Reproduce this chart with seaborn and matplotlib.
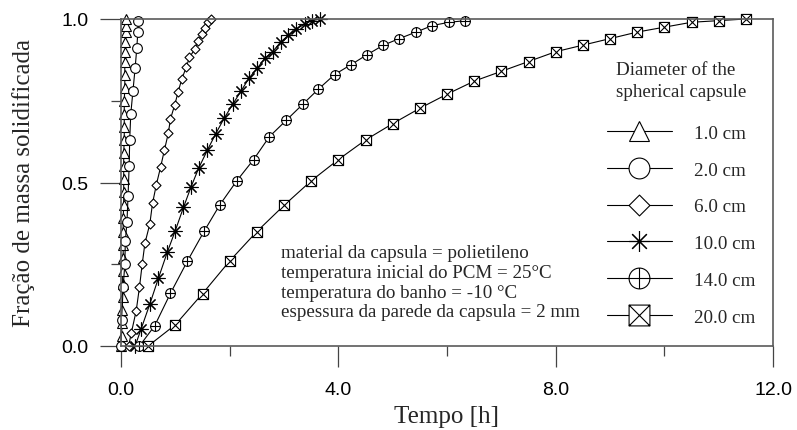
import numpy as np
import pandas as pd
import matplotlib
matplotlib.use("Agg")
import matplotlib.pyplot as plt
from matplotlib.path import Path
from matplotlib.ticker import FixedLocator
import seaborn as sns

# ---------------- data ----------------
series_labels = ["1.0 cm", "2.0 cm", "6.0 cm", "10.0 cm", "14.0 cm", "20.0 cm"]

t_1cm = [0.00, 0.01, 0.02, 0.02, 0.03, 0.03, 0.03, 0.04, 0.04, 0.04, 0.04, 0.05, 0.05, 0.05,
         0.05, 0.05, 0.06, 0.06, 0.06, 0.06, 0.07, 0.07, 0.07, 0.08, 0.08, 0.09, 0.09, 0.10]
f_1cm = [0.00, 0.03, 0.07, 0.11, 0.15, 0.19, 0.23, 0.27, 0.31, 0.35, 0.39, 0.43, 0.47, 0.51,
         0.55, 0.59, 0.63, 0.67, 0.71, 0.75, 0.79, 0.83, 0.87, 0.90, 0.93, 0.96, 0.98, 1.00]

t_2cm = [0.00, 0.01, 0.04, 0.07, 0.08, 0.11, 0.13, 0.15, 0.16, 0.18, 0.22, 0.26, 0.29, 0.31, 0.32]
f_2cm = [0.00, 0.08, 0.18, 0.25, 0.32, 0.38, 0.46, 0.55, 0.63, 0.71, 0.78, 0.85, 0.91, 0.96, 0.995]

t_6cm = [0.14, 0.19, 0.28, 0.34, 0.39, 0.44, 0.53, 0.58, 0.65, 0.73, 0.80, 0.87, 0.91, 0.99,
         1.05, 1.12, 1.20, 1.26, 1.36, 1.42, 1.49, 1.55, 1.61, 1.66]
f_6cm = [0.00, 0.04, 0.108, 0.18, 0.25, 0.314, 0.373, 0.436, 0.493, 0.548, 0.60, 0.65, 0.694,
         0.738, 0.776, 0.817, 0.852, 0.883, 0.908, 0.934, 0.954, 0.972, 0.99, 1.00]

t_10cm = [0.26, 0.37, 0.53, 0.69, 0.85, 1.00, 1.15, 1.29, 1.43, 1.59, 1.74, 1.90, 2.06, 2.21,
          2.36, 2.51, 2.65, 2.79, 2.94, 3.08, 3.23, 3.39, 3.51, 3.66]
f_10cm = [0.00, 0.052, 0.128, 0.208, 0.286, 0.353, 0.424, 0.487, 0.544, 0.599, 0.648, 0.697,
          0.74, 0.78, 0.82, 0.85, 0.88, 0.90, 0.93, 0.95, 0.97, 0.985, 0.995, 1.00]

t_14cm = [0.34, 0.62, 0.91, 1.22, 1.53, 1.82, 2.13, 2.44, 2.73, 3.04, 3.35, 3.63, 3.93, 4.23,
          4.52, 4.83, 5.12, 5.43, 5.73, 6.04, 6.34]
f_14cm = [0.00, 0.062, 0.161, 0.259, 0.351, 0.432, 0.505, 0.57, 0.64, 0.69, 0.74, 0.785, 0.83,
          0.86, 0.89, 0.92, 0.94, 0.96, 0.98, 0.99, 0.995]

t_20cm = [0.5, 1.0, 1.5, 2.0, 2.5, 3.0, 3.5, 4.0, 4.5, 5.0, 5.5, 6.0, 6.5, 7.0, 7.5, 8.0, 8.5,
          9.0, 9.5, 10.0, 10.5, 11.0, 11.5]
f_20cm = [0.00, 0.065, 0.16, 0.26, 0.35, 0.43, 0.505, 0.57, 0.63, 0.68, 0.727, 0.77, 0.81, 0.84,
          0.87, 0.90, 0.92, 0.94, 0.96, 0.975, 0.99, 0.995, 1.00]

x_ticks = [0.0, 4.0, 8.0, 12.0]
x_tick_labels = ["0.0", "4.0", "8.0", "12.0"]
x_minor = [2.0, 6.0, 10.0]
y_ticks = [0.0, 0.5, 1.0]
y_tick_labels = ["0.0", "0.5", "1.0"]
y_minor = [0.25, 0.75]

annotations = ["material da capsula = polietileno",
               "temperatura inicial do PCM = 25°C",
               "temperatura do banho = -10 °C",
               "espessura da parede da capsula = 2 mm"]

# ---------------- markers ----------------
M, L, C = Path.MOVETO, Path.LINETO, Path.CLOSEPOLY
cross = Path([(-1, 0), (1, 0), (0, -1), (0, 1)], [M, L, M, L])
circ_plus = Path.make_compound_path(Path.unit_circle(), cross)
square = Path([(-1, -1), (1, -1), (1, 1), (-1, 1), (-1, -1)], [M, L, L, L, C])
diag = Path([(-1, -1), (1, 1), (-1, 1), (1, -1)], [M, L, M, L])
box_x = Path.make_compound_path(square, diag)
diamond = Path([(0, 1), (1, 0), (0, -1), (-1, 0), (0, 1)], [M, L, L, L, C])
markers = ["^", "o", diamond, (8, 2, 0), circ_plus, box_x]
marker_sizes = [7, 7, 6.5, 10, 7, 7.3]

# ---------------- figure ----------------
sns.set_style("white")
plt.rcParams["font.family"] = ["Liberation Serif", "DejaVu Serif"]

fig = plt.figure(figsize=(7.97, 4.31), dpi=100)
ax = fig.add_axes([121 / 797, 1 - 347 / 431, (773 - 121) / 797, (347 - 20) / 431])

series = [(t_1cm, f_1cm), (t_2cm, f_2cm), (t_6cm, f_6cm),
          (t_10cm, f_10cm), (t_14cm, f_14cm), (t_20cm, f_20cm)]

for (t, f), lab, mk, ms in zip(series, series_labels, markers, marker_sizes):
    df = pd.DataFrame({"t": t, "f": f})
    sns.lineplot(data=df, x="t", y="f", ax=ax, estimator=None, sort=False,
                 color="black", lw=0.8, marker=mk, markersize=ms,
                 markerfacecolor="white", markeredgecolor="black",
                 markeredgewidth=0.8, label=lab, clip_on=False)

ax.set_xlim(0, 12)
ax.set_ylim(0, 1)
ax.xaxis.set_major_locator(FixedLocator(x_ticks))
ax.set_xticklabels(x_tick_labels)
ax.xaxis.set_minor_locator(FixedLocator(x_minor))
ax.yaxis.set_major_locator(FixedLocator(y_ticks))
ax.set_yticklabels(y_tick_labels)
ax.yaxis.set_minor_locator(FixedLocator(y_minor))

for sp in ax.spines.values():
    sp.set_color("#5a5a5a")
    sp.set_linewidth(1.2)

ax.tick_params(axis="both", which="major", direction="out", length=15, width=0.9,
               color="#444444", labelsize=14, labelcolor="black",
               labelfontfamily="Liberation Sans")
ax.tick_params(axis="both", which="minor", direction="out", length=7.5, width=0.9,
               color="#444444")
ax.tick_params(axis="x", which="major", pad=10.5, bottom=True)
ax.tick_params(axis="x", which="minor", bottom=True)
ax.tick_params(axis="y", which="major", pad=8.5, left=True)
ax.tick_params(axis="y", which="minor", left=True)

ax.set_xlabel("Tempo [h]", fontsize=18, labelpad=5)
ax.set_ylabel("Fração de massa solidificada", fontsize=18, labelpad=19)

ann_y = [0.2712, 0.2100, 0.1489, 0.0908]
for s, yy in zip(annotations, ann_y):
    ax.text(2.945, yy, s, fontsize=13.7, va="baseline", ha="left")

handles, labs = ax.get_legend_handles_labels()
leg = ax.legend(handles, labs, title="Diameter of the\nspherical capsule",
                loc="upper left", bbox_to_anchor=(607 / 797, 1 - 62 / 431),
                bbox_transform=fig.transFigure, frameon=False,
                handlelength=3.4, handletextpad=1.15, labelspacing=1.02,
                borderpad=0, borderaxespad=0, fontsize=13.7, title_fontsize=13.7)
leg._legend_box.sep = 18
leg.get_title().set_linespacing(1.35)
for h in leg.legend_handles:
    h.set_markersize(15)

fig.savefig("out.png", dpi=100)
